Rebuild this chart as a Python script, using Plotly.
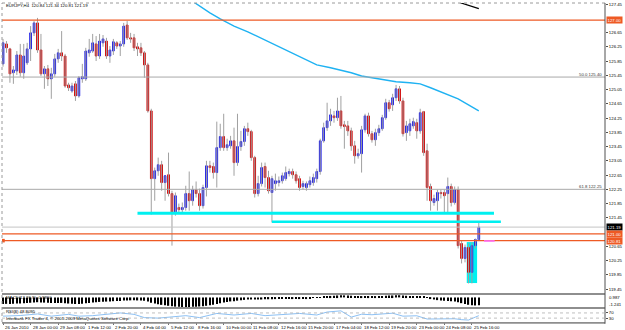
import plotly.graph_objects as go

# ---------------- data ----------------
bar_index = list(range(139))

opens = [125.77,126.33,126.19,125.52,125.57,126.02,125.52,125.80,126.19,126.64,
         126.92,126.16,125.49,125.63,125.35,125.49,125.91,126.08,125.99,125.18,
         125.01,125.21,124.87,125.35,125.35,126.08,126.13,126.33,125.99,126.36,
         126.41,125.99,126.13,126.36,126.27,126.33,126.86,126.50,126.50,126.25,
         126.22,126.08,125.74,124.45,122.55,122.77,122.94,122.44,122.66,122.13,
         121.57,121.74,121.68,121.74,122.13,121.93,122.24,122.13,121.79,122.30,
         122.91,122.89,122.72,123.42,123.73,123.42,123.47,123.61,123.00,123.45,
         123.59,123.95,123.87,123.14,122.13,122.41,122.89,122.58,122.16,122.41,
         122.44,122.49,122.55,122.69,122.75,122.66,122.55,122.33,122.30,122.38,
         122.44,122.55,122.75,123.61,123.98,124.17,124.31,124.26,124.45,124.06,
         124.03,123.89,123.47,123.19,123.25,123.92,124.31,123.81,123.64,123.84,
         123.95,124.26,124.68,124.62,124.82,125.07,124.73,123.84,123.89,124.03,
         124.12,123.89,124.43,123.33,122.33,121.88,121.93,122.16,122.16,122.13,
         122.33,121.88,122.24,120.73,120.31,120.62,119.92,120.67,120.84]
highs = [126.47,126.41,126.22,125.71,126.13,126.33,126.33,126.36,126.83,126.97,
         127.06,126.61,125.71,125.74,125.66,126.05,126.19,126.69,126.05,125.24,
         125.24,125.29,125.43,125.77,126.22,126.47,126.61,126.55,126.61,126.58,
         126.50,126.27,126.47,126.41,126.41,126.92,126.97,126.64,126.61,126.36,
         126.36,126.13,125.80,124.51,122.86,123.14,123.05,122.63,123.28,122.21,
         122.16,121.85,121.88,122.35,122.75,122.35,122.47,122.27,122.38,123.05,
         123.05,123.00,124.15,124.09,124.37,123.67,123.75,123.98,124.37,123.89,
         124.03,124.12,123.92,123.19,122.63,123.00,123.00,122.77,122.63,122.69,
         122.61,122.72,122.89,122.83,122.83,122.75,122.63,122.49,122.47,122.61,
         122.69,122.83,123.67,124.12,124.68,124.51,124.45,124.82,124.87,124.17,
         124.17,123.98,123.61,123.39,124.03,124.37,124.40,123.89,123.95,124.06,
         124.34,124.79,124.76,124.93,125.18,125.15,124.82,124.17,124.23,124.26,
         124.23,124.51,124.45,123.53,122.41,122.10,122.24,122.24,122.24,122.58,
         122.41,122.33,122.33,120.81,120.70,120.73,120.76,120.87,121.34]
lows = [125.69,126.08,125.24,125.21,125.46,125.41,125.35,125.74,125.85,126.55,
        126.08,125.43,125.07,125.15,124.79,125.41,125.80,125.85,125.10,125.01,
        124.96,124.73,124.82,125.24,125.29,125.97,126.08,125.85,125.91,126.25,
        125.91,125.80,126.02,126.19,125.99,126.25,126.44,126.36,126.13,125.99,
        125.99,125.38,124.40,121.54,121.93,122.63,122.21,121.93,122.05,120.67,
        121.51,121.57,121.60,121.65,121.65,121.79,122.02,121.65,121.71,122.05,
        122.72,122.55,122.30,123.33,123.33,123.33,123.39,122.63,122.91,123.33,
        123.47,123.75,123.05,122.02,122.05,122.33,122.30,122.13,121.32,122.21,
        122.33,122.41,122.49,122.61,122.55,122.41,122.21,122.24,122.21,122.30,
        122.35,122.44,122.66,123.56,123.89,124.03,124.12,124.17,123.95,123.39,
        123.75,123.33,122.97,123.11,122.72,123.84,123.73,123.56,123.47,123.75,
        123.89,124.20,124.43,124.45,124.73,124.65,123.73,123.61,123.75,123.95,
        123.67,123.81,123.19,121.93,121.65,121.79,121.65,121.99,121.60,121.60,
        121.77,121.82,120.59,120.17,120.20,119.61,119.61,120.59,120.81]
closes = [126.36,126.22,125.49,125.60,126.02,125.52,125.99,126.19,126.64,126.92,
          126.16,125.49,125.63,125.35,125.49,125.91,126.08,125.99,125.15,125.10,
          125.15,124.87,125.38,125.41,126.13,126.16,126.36,125.99,126.41,126.47,
          125.99,126.16,126.39,126.27,126.33,126.83,126.50,126.47,126.22,126.19,
          126.08,125.74,124.45,122.55,122.77,122.94,122.44,122.63,122.13,121.57,
          122.07,121.68,121.74,122.13,121.93,122.24,122.13,121.79,122.30,122.91,
          122.86,122.72,123.42,123.73,123.42,123.50,123.61,123.00,123.45,123.59,
          123.95,123.87,123.14,122.13,122.41,122.86,122.58,122.21,122.55,122.49,
          122.49,122.63,122.72,122.75,122.66,122.49,122.30,122.41,122.41,122.49,
          122.58,122.75,123.61,123.98,124.17,124.34,124.26,124.45,124.03,124.01,
          123.89,123.47,123.19,123.25,123.92,124.31,123.81,123.64,123.84,123.95,
          124.26,124.68,124.51,124.82,125.07,124.73,123.81,124.03,124.09,124.15,
          123.89,124.40,123.28,122.30,121.93,121.99,122.16,122.13,122.07,122.33,
          121.88,122.24,120.67,120.31,120.62,119.92,120.67,120.84,121.19]

macd_hist = [-0.85,-0.83,-0.84,-0.82,-0.79,-0.77,-0.76,-0.73,-0.69,-0.64,-0.62,
             -0.64,-0.67,-0.70,-0.73,-0.73,-0.72,-0.71,-0.75,-0.79,-0.82,-0.85,-0.84,
             -0.82,-0.76,-0.71,-0.66,-0.63,-0.58,-0.55,-0.54,-0.52,-0.49,-0.47,-0.45,-0.41,-0.39,
             -0.38,-0.38,-0.39,-0.40,-0.43,-0.52,
             -0.70,-0.80,-0.88,-0.96,-1.02,-1.08,-1.15,-1.19,-1.21,-1.23,-1.24,-1.22,-1.20,
             -1.19,-1.17,-1.14,-1.08,-1.01,-0.94,-0.84,
             -0.74,-0.66,-0.58,-0.52,-0.48,-0.42,-0.37,-0.32,-0.28,-0.27,-0.28,
             -0.28,-0.27,-0.25,-0.24,-0.24,-0.22,-0.20,-0.18,-0.16,-0.14,-0.13,-0.12,-0.12,-0.11,-0.10,-0.09,-0.08,-0.07,
             0.03,0.08,0.14,0.19,0.22,0.25,0.27,0.26,0.24,0.21,0.17,0.15,0.16,0.18,0.18,
             0.17,0.16,0.16,0.17,0.20,0.23,0.25,0.27,0.28,0.25,0.21,0.18,0.16,0.14,0.14,
             0.08,-0.05,-0.18,-0.28,-0.35,-0.40,-0.44,-0.46,-0.50,-0.52,-0.62,-0.74,-0.84,-0.95,-1.02,-1.04,-1.02]

ma_bars = [50,54,57,60,63,67,71,76,81,86,91,95,98,101,104,107,110,114,118,121,124,127,130,132,135,138]
ma_vals = [127.85,127.59,127.39,127.20,127.03,126.83,126.67,126.44,126.22,125.97,125.74,125.66,125.60,
           125.52,125.43,125.38,125.32,125.27,125.24,125.21,125.10,124.99,124.87,124.79,124.62,124.45]
ma2_bars = [128,133,138]
ma2_vals = [127.63,127.48,127.32]

rsi_bars = [0,5,10,14,19,22,26,30,34,38,41,45,49,53,57,62,67,72,76,82,86,91,94,98,101,104,107,110,113,116,120,123,127,131,133,135,137,138]
rsi_vals = [45,50,62,45,59,45,49,62,70,59,34,30,41,49,34,66,54,66,49,59,66,54,77,86,38,60,56,62,68,45,48,23,22,25,18,15,38,48.8]

date_ticks = [0,8,16,24,32,40,48,56,64,72,80,88,96,104,112,120,128,136]
date_labels = ["26 Jan 2010","28 Jan 00:00","29 Jan 08:00","1 Feb 12:00","2 Feb 20:00",
               "4 Feb 04:00","5 Feb 12:00","8 Feb 16:00","10 Feb 00:00","11 Feb 08:00",
               "12 Feb 16:00","15 Feb 20:00","17 Feb 04:00","18 Feb 12:00","19 Feb 20:00",
               "23 Feb 00:00","24 Feb 08:00","25 Feb 16:00"]
# 127.05 and 121.05 are hidden behind the coloured price tags in the reference
price_ticks = [127.45,126.65,126.25,125.85,125.45,125.05,124.65,124.25,123.85,123.45,
               123.05,122.65,122.25,121.85,121.45,120.65,120.25,119.85,119.45]

orange_levels = [127.00, 121.00, 120.81]
fib_levels = [125.40, 122.25]
fib_labels = ["50.0 125.40", "61.8 122.25"]
bid_price = 121.19
title_text = "EURJPY,H4  120.84 121.34 120.81 121.19"
hist_min, hist_max = -1.241, 0.987

# ---------------- figure ----------------
FONT = "Liberation Sans"
ORANGE = "#EE5A24"
CYAN = "#00F0F0"
BLUE = "#1A1AE6"
RED = "#D00000"

wick_x, wick_y = [], []
for i, h, l in zip(bar_index, highs, lows):
    wick_x += [i, i, None]
    wick_y += [l, h, None]

body_hi = [max(o, c) for o, c in zip(opens, closes)]
body_lo = [min(o, c) for o, c in zip(opens, closes)]

fig = go.Figure()
fig.add_trace(go.Scatter(x=wick_x, y=wick_y, mode="lines", line=dict(color="#A0A0A0", width=1),
                         xaxis="x", yaxis="y", hoverinfo="skip"))
fig.add_trace(go.Candlestick(x=bar_index, open=opens, high=body_hi, low=body_lo, close=closes,
                             increasing=dict(fillcolor=BLUE, line=dict(color=BLUE, width=1)),
                             decreasing=dict(fillcolor=RED, line=dict(color=RED, width=1)),
                             whiskerwidth=0, xaxis="x", yaxis="y"))
fig.add_trace(go.Scatter(x=ma_bars, y=ma_vals, mode="lines", line=dict(color="#1FB2F2", width=1.4),
                         xaxis="x", yaxis="y"))
fig.add_trace(go.Scatter(x=ma2_bars, y=ma2_vals, mode="lines", line=dict(color="#000000", width=1.2),
                         xaxis="x", yaxis="y"))
fig.add_trace(go.Bar(x=bar_index, y=macd_hist, marker=dict(color="#000000", line=dict(width=0)),
                     width=0.38, xaxis="x", yaxis="y2"))
fig.add_trace(go.Scatter(x=rsi_bars, y=rsi_vals, mode="lines", line=dict(color="#6FB0F0", width=0.8),
                         xaxis="x", yaxis="y3"))

shapes = []
for lv in orange_levels:
    shapes.append(dict(type="line", xref="paper", x0=0, x1=1, yref="y", y0=lv, y1=lv,
                       line=dict(color=ORANGE, width=1.2)))
for lv in fib_levels:
    shapes.append(dict(type="line", xref="paper", x0=0, x1=1, yref="y", y0=lv, y1=lv,
                       line=dict(color="#A8A8A8", width=1)))
shapes.append(dict(type="line", xref="paper", x0=0, x1=1, yref="y", y0=bid_price, y1=bid_price,
                   line=dict(color="#C4C4C4", width=1)))
shapes.append(dict(type="rect", xref="x", yref="y", x0=134.5, x1=137.5, y0=119.62, y1=120.77,
                   fillcolor=CYAN, line=dict(width=0), layer="below"))
shapes.append(dict(type="line", xref="x", yref="y", x0=39, x1=142.4, y0=121.58, y1=121.58,
                   line=dict(color=CYAN, width=3)))
shapes.append(dict(type="line", xref="x", yref="y", x0=78, x1=144.4, y0=121.34, y1=121.34,
                   line=dict(color=CYAN, width=2.5)))
shapes.append(dict(type="line", xref="x", yref="y", x0=139.5, x1=142.6, y0=120.80, y1=120.80,
                   line=dict(color="#FF70FF", width=1.6)))
shapes.append(dict(type="rect", xref="x", yref="y", x0=-0.3, x1=0.5, y0=120.76, y1=120.86,
                   fillcolor=ORANGE, line=dict(width=0)))
shapes.append(dict(type="rect", xref="paper", yref="paper", x0=0, x1=1.0, y0=0.0844, y1=0.0906,
                   fillcolor="#8E8E8E", line=dict(width=0)))
shapes.append(dict(type="rect", xref="paper", yref="paper", x0=0, x1=1.0, y0=0.0406, y1=0.0469,
                   fillcolor="#8E8E8E", line=dict(width=0)))
shapes.append(dict(type="rect", xref="paper", yref="paper", x0=0, x1=1.0, y0=-0.0055, y1=0.0,
                   fillcolor="#8E8E8E", line=dict(width=0)))
shapes.append(dict(type="line", xref="paper", yref="paper", x0=0, x1=1, y0=1, y1=1,
                   line=dict(color="#9A9A9A", width=1, dash="dot")))
shapes.append(dict(type="line", xref="paper", yref="paper", x0=0, x1=0, y0=0, y1=1,
                   line=dict(color="#9A9A9A", width=1, dash="dot")))
shapes.append(dict(type="line", xref="paper", yref="paper", x0=1, x1=1, y0=-0.0055, y1=1,
                   line=dict(color="#505050", width=1)))
for lv in [70, 30]:
    shapes.append(dict(type="line", xref="paper", x0=0, x1=1, yref="y3", y0=lv, y1=lv,
                       line=dict(color="#B0B0B0", width=0.8, dash="dot")))

annotations = []
tiny = dict(family=FONT, size=4.3, color="#000000")
annotations.append(dict(text=title_text, xref="paper", yref="paper", x=0.004, y=0.991,
                        xanchor="left", yanchor="middle", showarrow=False, font=tiny))
for lv, txt in zip(fib_levels, fib_labels):
    annotations.append(dict(text=txt, xref="paper", yref="y", x=0.999, y=lv, yshift=3,
                            xanchor="right", yanchor="middle", showarrow=False,
                            font=dict(family=FONT, size=4.3, color="#333333")))
tags = [(orange_levels[0], ORANGE, "127.00"), (bid_price, "#000000", "121.19"),
        (orange_levels[1], ORANGE, "121.00"), (orange_levels[2], ORANGE, "120.81")]
for lv, bg, txt in tags:
    annotations.append(dict(text=txt, xref="paper", yref="y", x=1, y=lv, xshift=1,
                            xanchor="left", yanchor="middle", showarrow=False, bgcolor=bg,
                            borderpad=0.6, font=dict(family=FONT, size=4.3, color="#FFFFFF")))
for tv, tl in zip(date_ticks, date_labels):
    annotations.append(dict(text=tl, xref="x", yref="paper", x=tv, y=-0.0165,
                            xanchor="left", yanchor="middle", showarrow=False, font=tiny))
annotations.append(dict(text="MACD(12,26,9) -0.9860", xref="paper", yref="paper", x=0.004, y=0.078,
                        xanchor="left", yanchor="middle", showarrow=False, font=tiny))
annotations.append(dict(text="%.3f" % hist_max, xref="paper", yref="y2 domain", x=1, xshift=2, y=0.8,
                        xanchor="left", yanchor="middle", showarrow=False, font=tiny))
annotations.append(dict(text="%.3f" % hist_min, xref="paper", yref="y2 domain", x=1, xshift=2, y=0.2,
                        xanchor="left", yanchor="middle", showarrow=False, font=tiny))
annotations.append(dict(text="RSI(8) 48.8095", xref="paper", yref="paper", x=0.004, y=0.034,
                        xanchor="left", yanchor="middle", showarrow=False, font=tiny))
annotations.append(dict(text="Interbank FX Trader 4, \u00a9 2001-2009 MetaQuotes Software Corp.",
                        xref="paper", yref="paper", x=0.004, y=0.0125,
                        xanchor="left", yanchor="middle", showarrow=False, font=tiny))

fig.update_layout(
    width=625, height=330, margin=dict(l=2, r=16, t=2, b=8),
    paper_bgcolor="#FFFFFF", plot_bgcolor="#FFFFFF", showlegend=False,
    font=dict(family=FONT, size=4.3, color="#000000"),
    xaxis=dict(domain=[0, 1], range=[-0.3, 174.6], anchor="y3", showgrid=False, zeroline=False,
               tickvals=date_ticks, showticklabels=False, ticks="outside", ticklen=2,
               tickcolor="#707070", rangeslider=dict(visible=False), showline=False, fixedrange=True),
    yaxis=dict(domain=[0.0906, 1.0], range=[119.338, 127.478], side="right", anchor="x",
               showgrid=False, zeroline=False, tickvals=price_ticks,
               ticktext=["%.2f" % v for v in price_ticks], ticks="outside", ticklen=2,
               tickcolor="#505050", tickfont=dict(family=FONT, size=4.3, color="#000000"),
               showline=False),
    yaxis2=dict(domain=[0.0469, 0.0844], range=[hist_min, 0.30], anchor="x", showgrid=False,
                zeroline=False, showticklabels=False, ticks=""),
    yaxis3=dict(domain=[0.0, 0.0406], range=[0, 100], side="right", anchor="x", showgrid=False,
                zeroline=False, tickvals=[70, 30], ticks="outside", ticklen=2, tickcolor="#505050",
                tickfont=dict(family=FONT, size=4.3, color="#000000")),
    shapes=shapes, annotations=annotations, bargap=0.6,
)

fig.write_html("out.html")
